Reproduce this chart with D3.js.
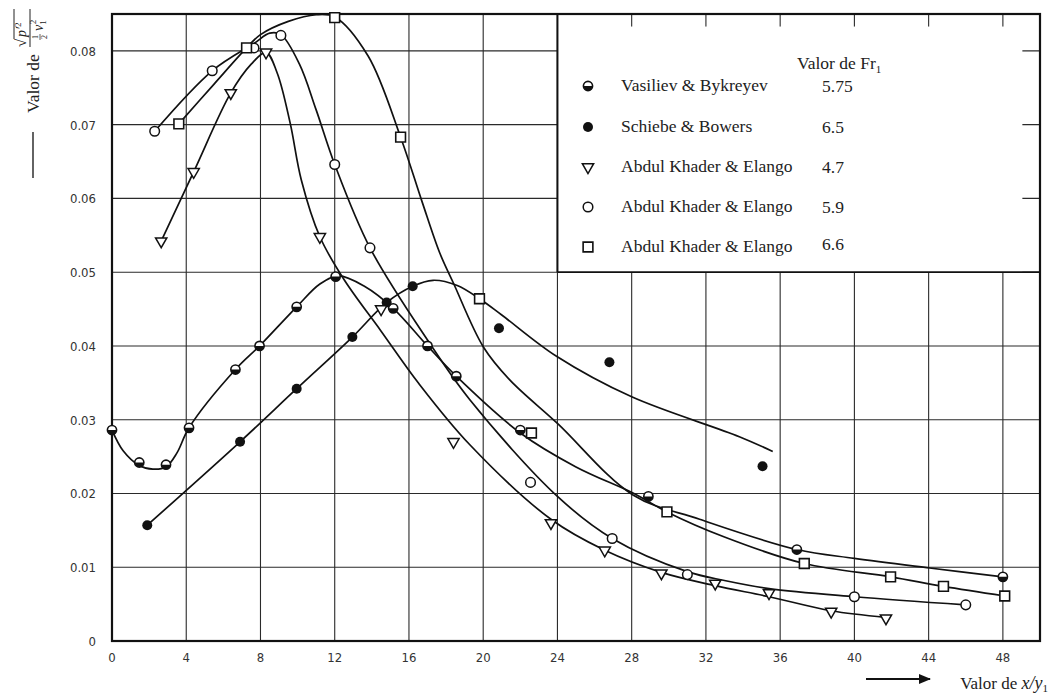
<!DOCTYPE html>
<html>
<head>
<meta charset="utf-8">
<script src="https://cdn.jsdelivr.net/npm/d3@7"></script>
<style>
  body { margin: 0; background: #fff; }
  svg { display: block; }
</style>
</head>
<body>
<div id="chart"></div>
<script>
// ---- values ----
const xTicks = [0, 4, 8, 12, 16, 20, 24, 28, 32, 36, 40, 44, 48];
const yTicks = [0, 0.01, 0.02, 0.03, 0.04, 0.05, 0.06, 0.07, 0.08];
const yTickLabels = ["0", "0.01", "0.02", "0.03", "0.04", "0.05", "0.06", "0.07", "0.08"];

// measured points, one pair of arrays per source
const vbX = [0, 1.47, 2.91, 4.15, 6.65, 7.95, 9.95, 12.05, 15.15, 17.0, 18.55, 22.0, 28.9, 36.9, 48.0];
const vbY = [0.0286, 0.0242, 0.0239, 0.0289, 0.0368, 0.0400, 0.0453, 0.0494, 0.0451, 0.0400, 0.0359, 0.0286, 0.0196, 0.0124, 0.0087];

const sbX = [1.9, 6.9, 9.95, 12.95, 14.8, 16.2, 20.85, 26.8, 35.05];
const sbY = [0.0157, 0.0270, 0.0342, 0.0412, 0.0459, 0.0481, 0.0424, 0.0378, 0.0237];

const triX = [2.65, 4.4, 6.4, 8.3, 11.2, 14.5, 18.4, 23.65, 26.55, 29.6, 32.5, 35.4, 38.75, 41.7];
const triY = [0.0542, 0.0636, 0.0743, 0.0798, 0.0548, 0.0450, 0.0270, 0.0160, 0.0123, 0.0092, 0.0078, 0.0065, 0.0040, 0.0031];

const cirX = [2.3, 5.4, 7.65, 9.1, 12.0, 13.9, 22.55, 26.95, 31.0, 40.0, 46.0];
const cirY = [0.0691, 0.0773, 0.0804, 0.0821, 0.0646, 0.0533, 0.0215, 0.0139, 0.0090, 0.0060, 0.0049];

const sqX = [3.6, 7.25, 12.0, 15.55, 19.8, 22.6, 29.9, 37.3, 41.95, 44.8, 48.1];
const sqY = [0.0701, 0.0804, 0.0845, 0.0683, 0.0464, 0.0282, 0.0175, 0.0105, 0.0087, 0.0074, 0.0061];

// hand-drawn fair curves as they run in the figure
const curveAX = [0, 0.6, 1.47, 2.2, 2.91, 3.5, 4.15, 6.65, 7.95, 9.95, 11.2, 12.2, 13.6, 15.15, 17.0, 18.55, 22.0, 25.0, 28.2, 29.9, 33.0, 37.3, 41.95, 44.8, 48.1];
const curveAY = [0.0286, 0.0258, 0.0238, 0.0233, 0.0236, 0.0255, 0.0289, 0.0368, 0.0400, 0.0453, 0.0484, 0.0495, 0.0481, 0.0451, 0.0400, 0.0359, 0.0282, 0.0236, 0.0199, 0.0175, 0.0141, 0.0105, 0.0087, 0.0074, 0.0061];

const curveBX = [3.6, 5.5, 7.25, 8.0, 9.5, 11.0, 12.0, 13.8, 15.55, 16.7, 17.66, 18.4, 20.0, 21.43, 24.0, 28.07, 31.66, 36.9, 40.0, 44.05, 48.0];
const curveBY = [0.0701, 0.0755, 0.0804, 0.0822, 0.0840, 0.0849, 0.0846, 0.0793, 0.0683, 0.0596, 0.0526, 0.0485, 0.0399, 0.0354, 0.0295, 0.0198, 0.0165, 0.0124, 0.0112, 0.0099, 0.0087];

const curveCX = [2.3, 5.4, 7.65, 8.5, 9.1, 10.1, 11.0, 12.0, 13.9, 17.0, 19.28, 24.0, 26.95, 31.0, 33.0, 35.4, 40.0, 46.0];
const curveCY = [0.0691, 0.0773, 0.0810, 0.0824, 0.0822, 0.0782, 0.0720, 0.0646, 0.0533, 0.0408, 0.0327, 0.0196, 0.0139, 0.0094, 0.0082, 0.0071, 0.0060, 0.0049];

const curveTX = [2.65, 4.4, 6.4, 7.5, 8.3, 8.9, 9.6, 10.2, 11.2, 12.5, 14.5, 16.5, 19.28, 23.65, 26.55, 29.6, 32.5, 35.4, 38.75, 41.7];
const curveTY = [0.0542, 0.0636, 0.0743, 0.0782, 0.0798, 0.0770, 0.0702, 0.0625, 0.0548, 0.0490, 0.0420, 0.0350, 0.0266, 0.0165, 0.0123, 0.0093, 0.0075, 0.0060, 0.0041, 0.0032];

const curveSX = [1.9, 6.9, 9.95, 12.95, 14.8, 16.2, 17.3, 18.6, 19.8, 21.0, 23.95, 28.0, 33.8, 35.6];
const curveSY = [0.0157, 0.0270, 0.0342, 0.0412, 0.0459, 0.0481, 0.0489, 0.0482, 0.0464, 0.0442, 0.0386, 0.0331, 0.0277, 0.0257];

// legend
const legendNames = ["Vasiliev & Bykreyev", "Schiebe & Bowers", "Abdul Khader & Elango", "Abdul Khader & Elango", "Abdul Khader & Elango"];
const legendFr = ["5.75", "6.5", "4.7", "5.9", "6.6"];
const legendKinds = ["half", "fill", "tri", "circ", "sq"];

const zip = (xs, ys) => xs.map((v, i) => [v, ys[i]]);

// ---- drawing ----
const W = 1056, H = 697;
const svg = d3.select("#chart").append("svg")
    .attr("width", W)
    .attr("height", H)
    .style("background", "#fff");

const x = d3.scaleLinear().domain([0, 50]).range([112, 1040]);
const y = d3.scaleLinear().domain([0, 0.085]).range([641, 14]);

const serif = "'Liberation Serif', 'Times New Roman', serif";
const narrow = "'DejaVu Sans Condensed', 'Liberation Sans Narrow', 'Roboto', sans-serif";

// grid
svg.append("g")
    .selectAll("line")
    .data(xTicks.slice(1))
    .join("line")
    .attr("x1", d => x(d)).attr("x2", d => x(d))
    .attr("y1", y(0)).attr("y2", y(0.085))
    .attr("stroke", "#2a2a2a")
    .attr("stroke-width", 1.1);

svg.append("g")
    .selectAll("line")
    .data(yTicks.slice(1))
    .join("line")
    .attr("x1", x(0)).attr("x2", x(50))
    .attr("y1", d => y(d)).attr("y2", d => y(d))
    .attr("stroke", "#2a2a2a")
    .attr("stroke-width", 1.1);

// tick labels
svg.append("g")
    .selectAll("text")
    .data(xTicks)
    .join("text")
    .attr("x", d => x(d))
    .attr("y", 662)
    .attr("text-anchor", "middle")
    .style("font-family", narrow)
    .style("font-size", "13px")
    .style("fill", "#333")
    .text(d => d);

svg.append("g")
    .selectAll("text")
    .data(yTicks)
    .join("text")
    .attr("x", 96)
    .attr("y", d => y(d) + 5)
    .attr("text-anchor", "end")
    .style("font-family", narrow)
    .style("font-size", "13px")
    .style("fill", "#333")
    .text((d, i) => yTickLabels[i]);

// legend box (covers the grid)
const lg = svg.append("g");
lg.append("rect")
    .attr("x", x(24))
    .attr("y", y(0.0833))
    .attr("width", x(49.05) - x(24))
    .attr("height", y(0.05) - y(0.0833))
    .attr("fill", "#fff");
lg.append("line")
    .attr("x1", x(24)).attr("x2", x(24))
    .attr("y1", y(0.085)).attr("y2", y(0.05))
    .attr("stroke", "#111").attr("stroke-width", 2);
lg.append("line")
    .attr("x1", x(24)).attr("x2", x(50))
    .attr("y1", y(0.05)).attr("y2", y(0.05))
    .attr("stroke", "#111").attr("stroke-width", 1.8);

// frame
svg.append("rect")
    .attr("x", x(0)).attr("y", y(0.085))
    .attr("width", x(50) - x(0))
    .attr("height", y(0) - y(0.085))
    .attr("fill", "none")
    .attr("stroke", "#111")
    .attr("stroke-width", 2.2);

// curves
const line = d3.line()
    .x(d => x(d[0]))
    .y(d => y(d[1]))
    .curve(d3.curveCatmullRom.alpha(0.5));

const curves = [
    zip(curveAX, curveAY),
    zip(curveBX, curveBY),
    zip(curveCX, curveCY),
    zip(curveTX, curveTY),
    zip(curveSX, curveSY)
];
svg.append("g")
    .selectAll("path")
    .data(curves)
    .join("path")
    .attr("d", line)
    .attr("fill", "none")
    .attr("stroke", "#111")
    .attr("stroke-width", 1.7);

// markers
function drawMarker(g, kind, cx, cy) {
    if (kind === "half") {
        g.append("circle").attr("cx", cx).attr("cy", cy).attr("r", 4.6)
            .attr("fill", "#fff").attr("stroke", "#111").attr("stroke-width", 1.6);
        g.append("path")
            .attr("d", `M${cx - 4.6},${cy} A4.6,4.6 0 0 0 ${cx + 4.6},${cy} Z`)
            .attr("fill", "#111");
    } else if (kind === "fill") {
        g.append("circle").attr("cx", cx).attr("cy", cy).attr("r", 5)
            .attr("fill", "#111");
    } else if (kind === "tri") {
        g.append("path")
            .attr("d", d3.symbol(d3.symbolTriangle, 55))
            .attr("transform", `translate(${cx},${cy}) rotate(180)`)
            .attr("fill", "#fff").attr("stroke", "#111").attr("stroke-width", 1.5);
    } else if (kind === "circ") {
        g.append("circle").attr("cx", cx).attr("cy", cy).attr("r", 4.8)
            .attr("fill", "#fff").attr("stroke", "#111").attr("stroke-width", 1.5);
    } else {
        g.append("path")
            .attr("d", d3.symbol(d3.symbolSquare, 95))
            .attr("transform", `translate(${cx},${cy})`)
            .attr("fill", "#fff").attr("stroke", "#111").attr("stroke-width", 1.6);
    }
}

const series = [
    ["half", zip(vbX, vbY)],
    ["fill", zip(sbX, sbY)],
    ["tri", zip(triX, triY)],
    ["circ", zip(cirX, cirY)],
    ["sq", zip(sqX, sqY)]
];
const mg = svg.append("g");
series.forEach(([kind, pts]) => {
    pts.forEach(p => drawMarker(mg, kind, x(p[0]), y(p[1])));
});

// legend content
lg.append("text")
    .attr("x", 797).attr("y", 69)
    .style("font-family", serif).style("font-size", "17.5px").style("fill", "#222")
    .text("Valor de Fr")
    .append("tspan").attr("dy", 4).style("font-size", "11px").text("1");

const rowY = [86, 127, 167, 207, 247];
legendNames.forEach((name, i) => {
    drawMarker(lg, legendKinds[i], 588, rowY[i]);
    lg.append("text")
        .attr("x", 621).attr("y", rowY[i] + 5)
        .style("font-family", serif).style("font-size", "17.5px").style("fill", "#222")
        .text(name);
    lg.append("text")
        .attr("x", 822).attr("y", rowY[i] + (i === 4 ? 3 : 6))
        .style("font-family", serif).style("font-size", "17.5px").style("fill", "#222")
        .text(legendFr[i]);
});

// y axis title (rotated)
const yt = svg.append("g").attr("transform", "translate(39,113) rotate(-90)");
yt.append("text")
    .attr("x", 0).attr("y", 0)
    .style("font-family", serif).style("font-size", "17.5px").style("fill", "#222")
    .text("Valor de");
// fraction: sqrt(p'^2) over (1/2) v1^2
yt.append("text").attr("x", 66).attr("y", -13)
    .style("font-family", serif).style("font-size", "15px").style("fill", "#222")
    .text("\u221A");
yt.append("line").attr("x1", 74).attr("x2", 104).attr("y1", -25).attr("y2", -25)
    .attr("stroke", "#222").attr("stroke-width", 1);
yt.append("text").attr("x", 76).attr("y", -13)
    .style("font-family", serif).style("font-size", "14px").style("font-style", "italic").style("fill", "#222")
    .text("p\u2032")
    .append("tspan").attr("dy", -5).style("font-size", "9px").style("font-style", "normal").text("2");
yt.append("line").attr("x1", 66).attr("x2", 104).attr("y1", -9).attr("y2", -9)
    .attr("stroke", "#222").attr("stroke-width", 1);
yt.append("text").attr("x", 74).attr("y", -1)
    .style("font-family", serif).style("font-size", "8px").style("fill", "#222").text("1");
yt.append("line").attr("x1", 73).attr("x2", 79).attr("y1", 1).attr("y2", 1)
    .attr("stroke", "#222").attr("stroke-width", 0.7);
yt.append("text").attr("x", 74).attr("y", 8)
    .style("font-family", serif).style("font-size", "8px").style("fill", "#222").text("2");
yt.append("text").attr("x", 82).attr("y", 4)
    .style("font-family", serif).style("font-size", "14px").style("font-style", "italic").style("fill", "#222")
    .text("v")
    .append("tspan").attr("dy", 3).style("font-size", "9px").style("font-style", "normal").text("1")
    .append("tspan").attr("dx", -4).attr("dy", -10).text("2");
// dash before the title
svg.append("line")
    .attr("x1", 33).attr("x2", 33).attr("y1", 132).attr("y2", 178)
    .attr("stroke", "#222").attr("stroke-width", 1.4);

// x axis title with arrow
svg.append("defs").append("marker")
    .attr("id", "arrow")
    .attr("viewBox", "0 0 10 10")
    .attr("refX", 9).attr("refY", 5)
    .attr("markerWidth", 7).attr("markerHeight", 7)
    .attr("orient", "auto")
    .append("path").attr("d", "M0,1 L10,5 L0,9 Z").attr("fill", "#111");
svg.append("line")
    .attr("x1", 866).attr("x2", 930).attr("y1", 679).attr("y2", 679)
    .attr("stroke", "#111").attr("stroke-width", 1.8)
    .attr("marker-end", "url(#arrow)");
const xt = svg.append("text")
    .attr("x", 1048).attr("y", 689)
    .attr("text-anchor", "end")
    .style("font-family", serif).style("font-size", "17px").style("fill", "#222");
xt.append("tspan").text("Valor de ");
xt.append("tspan").style("font-style", "italic").style("font-size", "18px").text("x/y");
xt.append("tspan").attr("dy", 3).style("font-size", "11px").text("1");
</script>
</body>
</html>
